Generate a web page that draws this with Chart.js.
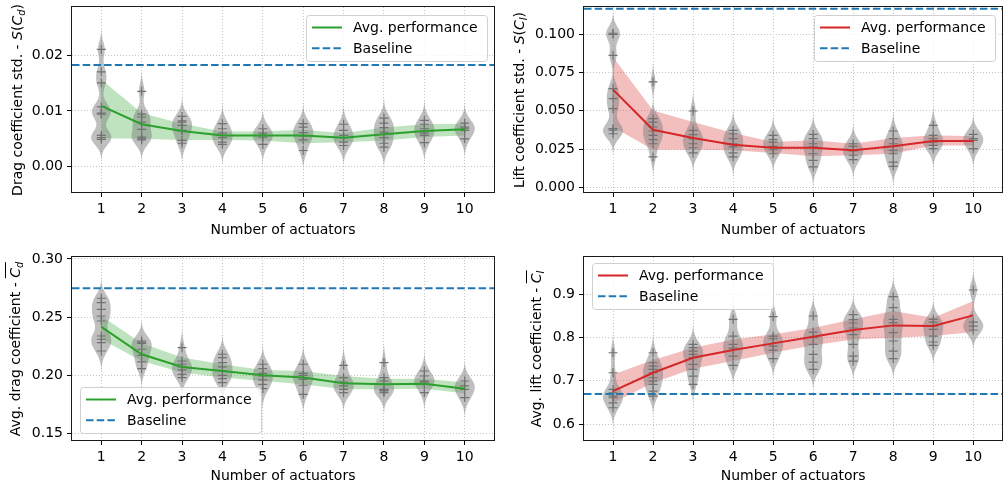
<!DOCTYPE html>
<html><head><meta charset="utf-8">
<script src="https://cdn.jsdelivr.net/npm/chart.js@4.4.1/dist/chart.umd.min.js"></script>
<style>
html,body{margin:0;padding:0;background:#fff;}
#wrap{position:relative;width:1008px;height:488px;overflow:hidden;background:#fff;}
canvas{position:absolute;}
.yl{position:absolute;white-space:nowrap;font-family:"DejaVu Sans";font-size:14px;line-height:16px;color:#000;transform:translate(-50%,-50%) rotate(-90deg);}
.yl sub{font-size:70%;vertical-align:-0.3em;line-height:0;}
.ov{border-top:1px solid #000;padding-top:1px;}
</style></head>
<body><div id="wrap">
<canvas id="c1" width="504" height="244" style="left:0;top:0"></canvas>
<canvas id="c2" width="504" height="244" style="left:504px;top:0"></canvas>
<canvas id="c3" width="504" height="244" style="left:0;top:244px"></canvas>
<canvas id="c4" width="504" height="244" style="left:504px;top:244px"></canvas>
<div class="yl" style="left:16.5px;top:99.5px">Drag coefficient std. - <i>S</i>(<i>C<sub>d</sub></i>)</div>
<div class="yl" style="left:519px;top:99.5px">Lift coefficient std. - <i>S</i>(<i>C<sub>l</sub></i>)</div>
<div class="yl" style="left:15px;top:348.5px">Avg. drag coefficient - <span class="ov"><i>C<sub>d</sub></i></span></div>
<div class="yl" style="left:536px;top:348.5px">Avg. lift coefficient - <span class="ov"><i>C<sub>l</sub></i></span></div>
</div>
<script>
// ---------- shared x data ----------
const xTicks = [1, 2, 3, 4, 5, 6, 7, 8, 9, 10];
const xTickLabels = ['1', '2', '3', '4', '5', '6', '7', '8', '9', '10'];
const xLimits = [0.275, 10.725];
const seriesLabels = ['Avg. performance', 'Baseline'];

// ---------- Panel 1: drag coefficient std ----------
const dragStdMean  = [0.0109, 0.0076, 0.0064, 0.0056, 0.0056, 0.0056, 0.0052, 0.0058, 0.0064, 0.0067];
const dragStdUpper = [0.0156, 0.0096, 0.0077, 0.0063, 0.0063, 0.0066, 0.0060, 0.0070, 0.0076, 0.0077];
const dragStdLower = [0.0051, 0.0050, 0.0048, 0.0048, 0.0047, 0.0042, 0.0044, 0.0047, 0.0053, 0.0056];
const dragStdBaseline = 0.0182;
const dragStdSamples = [
  [0.0210, 0.0170, 0.0150, 0.0107, 0.0096, 0.0094, 0.0056, 0.0052, 0.0049],
  [0.0135, 0.0094, 0.0089, 0.0080, 0.0067, 0.0053, 0.0050, 0.0048],
  [0.0090, 0.0082, 0.0080, 0.0074, 0.0065, 0.0064, 0.0047, 0.0042],
  [0.0077, 0.0068, 0.0060, 0.0052, 0.0044, 0.0040],
  [0.0068, 0.0060, 0.0056, 0.0053, 0.0040],
  [0.0077, 0.0071, 0.0061, 0.0055, 0.0048, 0.0029],
  [0.0076, 0.0065, 0.0056, 0.0052, 0.0044, 0.0038],
  [0.0087, 0.0078, 0.0070, 0.0062, 0.0052, 0.0042, 0.0035],
  [0.0083, 0.0076, 0.0068, 0.0060, 0.0056, 0.0043],
  [0.0078, 0.0071, 0.0068, 0.0065, 0.0050]
];
const dragStdTicks = [0, 0.01, 0.02];
const dragStdTickLabels = ['0.00', '0.01', '0.02'];
const dragStdRange = [-0.00453, 0.0286];

// ---------- Panel 2: lift coefficient std ----------
const liftStdMean  = [0.0638, 0.0377, 0.0323, 0.0280, 0.0260, 0.0260, 0.0243, 0.0269, 0.0304, 0.0304];
const liftStdUpper = [0.0850, 0.0503, 0.0427, 0.0356, 0.0297, 0.0308, 0.0286, 0.0323, 0.0341, 0.0334];
const liftStdLower = [0.0395, 0.0247, 0.0247, 0.0243, 0.0226, 0.0204, 0.0211, 0.0221, 0.0275, 0.0275];
const liftStdBaseline = 0.1165;
const liftStdSamples = [
  [0.1005, 0.0998, 0.0861, 0.0644, 0.0579, 0.0514, 0.0384, 0.0375, 0.0351],
  [0.0688, 0.0449, 0.0427, 0.0395, 0.0369, 0.0341, 0.0313, 0.0286, 0.0200],
  [0.0499, 0.0373, 0.0345, 0.0319, 0.0286, 0.0260, 0.0226],
  [0.0373, 0.0351, 0.0319, 0.0286, 0.0265, 0.0226, 0.0200],
  [0.0341, 0.0313, 0.0297, 0.0269, 0.0247, 0.0221],
  [0.0347, 0.0319, 0.0286, 0.0265, 0.0221, 0.0178, 0.0135],
  [0.0286, 0.0269, 0.0239, 0.0211, 0.0183],
  [0.0369, 0.0319, 0.0286, 0.0269, 0.0243, 0.0221, 0.0167, 0.0139],
  [0.0406, 0.0341, 0.0319, 0.0297, 0.0275, 0.0254],
  [0.0347, 0.0319, 0.0308, 0.0254]
];
const liftStdTicks = [0, 0.025, 0.05, 0.075, 0.1];
const liftStdTickLabels = ['0.000', '0.025', '0.050', '0.075', '0.100'];
const liftStdRange = [-0.0028, 0.11757];

// ---------- Panel 3: average drag coefficient ----------
const dragAvgMean  = [0.2415, 0.2180, 0.2071, 0.2036, 0.1999, 0.1979, 0.1930, 0.1921, 0.1927, 0.1884];
const dragAvgUpper = [0.2509, 0.2274, 0.2151, 0.2094, 0.2045, 0.2036, 0.1993, 0.1970, 0.1970, 0.1936];
const dragAvgLower = [0.2309, 0.2122, 0.2022, 0.1979, 0.1950, 0.1921, 0.1878, 0.1878, 0.1884, 0.1844];
const dragAvgBaseline = 0.2748;
const dragAvgSamples = [
  [0.2662, 0.2624, 0.2567, 0.2509, 0.2466, 0.2337, 0.2309, 0.2280, 0.2208],
  [0.2294, 0.2284, 0.2274, 0.2223, 0.2171, 0.2114, 0.2056],
  [0.2237, 0.2122, 0.2094, 0.2071, 0.2045, 0.2007, 0.1979],
  [0.2180, 0.2151, 0.2108, 0.2071, 0.2036, 0.1999, 0.1970, 0.1936],
  [0.2094, 0.2056, 0.2016, 0.1993, 0.1959, 0.1921, 0.1884],
  [0.2094, 0.2016, 0.1999, 0.1964, 0.1913, 0.1835],
  [0.2085, 0.1979, 0.1941, 0.1907, 0.1878, 0.1850],
  [0.2108, 0.1979, 0.1950, 0.1878, 0.1871, 0.1864, 0.1850],
  [0.2036, 0.1993, 0.1950, 0.1945, 0.1941, 0.1921, 0.1850],
  [0.1950, 0.1907, 0.1878, 0.1807]
];
const dragAvgTicks = [0.15, 0.20, 0.25, 0.30];
const dragAvgTickLabels = ['0.15', '0.20', '0.25', '0.30'];
const dragAvgRange = [0.1442, 0.3017];

// ---------- Panel 4: average lift coefficient ----------
const liftAvgMean  = [0.6760, 0.7183, 0.7530, 0.7707, 0.7861, 0.8015, 0.8169, 0.8276, 0.8261, 0.8507];
const liftAvgUpper = [0.7145, 0.7476, 0.7761, 0.7953, 0.8069, 0.8215, 0.8415, 0.8607, 0.8453, 0.8838];
const liftAvgLower = [0.6490, 0.6952, 0.7276, 0.7453, 0.7645, 0.7815, 0.7953, 0.7992, 0.8030, 0.8122];
const liftAvgBaseline = 0.669;
const liftAvgSamples = [
  [0.7645, 0.7183, 0.6798, 0.6721, 0.6644, 0.6606, 0.6490, 0.6375],
  [0.7645, 0.7414, 0.7337, 0.7260, 0.7183, 0.7068, 0.6991, 0.6914, 0.6760, 0.6644],
  [0.7838, 0.7761, 0.7684, 0.7607, 0.7530, 0.7376, 0.7260, 0.7106, 0.6914],
  [0.8415, 0.8030, 0.7838, 0.7750, 0.7568, 0.7353],
  [0.8477, 0.8030, 0.7968, 0.7799, 0.7707, 0.7507],
  [0.8492, 0.8122, 0.7992, 0.7838, 0.7607, 0.7430, 0.7260],
  [0.8523, 0.8408, 0.8331, 0.8215, 0.8061, 0.7838, 0.7568, 0.7453],
  [0.8938, 0.8684, 0.8415, 0.8338, 0.8107, 0.7915, 0.7684, 0.7507],
  [0.8415, 0.8353, 0.8261, 0.8184, 0.8030, 0.7892, 0.7815],
  [0.9092, 0.8353, 0.8261, 0.8169]
];
const liftAvgTicks = [0.6, 0.7, 0.8, 0.9];
const liftAvgTickLabels = ['0.6', '0.7', '0.8', '0.9'];
const liftAvgRange = [0.5631, 0.9854];

// ---------- rendering ----------
Chart.defaults.font.family = '"DejaVu Sans"';
Chart.defaults.font.size = 14;
Chart.defaults.color = '#000';

function violinPlugin(samples, range) {
  return {
    id: 'violins',
    beforeDatasetDraw(chart, args) {
      if (args.index !== 2) return;
      const { ctx, chartArea: a, scales: { x, y } } = chart;
      ctx.save();
      ctx.beginPath();
      ctx.rect(a.left, a.top, a.right - a.left, a.bottom - a.top);
      ctx.clip();
      ctx.fillStyle = 'rgba(128,128,128,0.5)';
      const bw = 0.04 * (range[1] - range[0]);
      samples.forEach((s, i) => {
        const lo = Math.min(...s) - 2.8 * bw, hi = Math.max(...s) + 2.8 * bw;
        const N = 180, ys = [], ds = [];
        for (let k = 0; k <= N; k++) {
          const v = lo + (hi - lo) * k / N;
          let d = 0;
          s.forEach(p => { d += Math.exp(-0.5 * ((v - p) / bw) ** 2); });
          ys.push(v); ds.push(d);
        }
        const dm = Math.max(...ds);
        const xc = xTicks[i];
        ctx.beginPath();
        for (let k = 0; k <= N; k++) {
          const px = x.getPixelForValue(xc + 0.25 * ds[k] / dm), py = y.getPixelForValue(ys[k]);
          if (k === 0) ctx.moveTo(px, py); else ctx.lineTo(px, py);
        }
        for (let k = N; k >= 0; k--) {
          ctx.lineTo(x.getPixelForValue(xc - 0.25 * ds[k] / dm), y.getPixelForValue(ys[k]));
        }
        ctx.closePath();
        ctx.fill();
      });
      ctx.restore();
    }
  };
}

const framePlugin = {
  id: 'frame',
  afterDatasetsDraw(chart) {
    const { ctx, chartArea: a } = chart;
    ctx.save();
    ctx.strokeStyle = '#1a1a1a';
    ctx.lineWidth = 1;
    const l = Math.round(a.left) - 0.5, t = Math.round(a.top) - 0.5;
    const r = Math.round(a.right) + 0.5, b = Math.round(a.bottom) + 0.5;
    ctx.strokeRect(l, t, r - l, b - t);
    ctx.restore();
  }
};

function legendPlugin(pos) {
  return {
    id: 'customLegend',
    afterDraw(chart) {
      const { ctx, chartArea: a } = chart;
      const w = 181, h = 46;
      let L, T;
      if (pos === 'ur') { L = a.right - 7 - w; T = a.top + 8; }
      else if (pos === 'ul') { L = a.left + 8; T = a.top + 6; }
      else { L = a.left + 8; T = a.bottom - 7 - h; }
      L = Math.round(L) + 0.5; T = Math.round(T) + 0.5;
      ctx.save();
      ctx.beginPath();
      ctx.roundRect(L, T, w, h, 3);
      ctx.fillStyle = 'rgba(255,255,255,0.8)';
      ctx.fill();
      ctx.strokeStyle = '#d0d0d0';
      ctx.lineWidth = 1;
      ctx.stroke();
      ctx.font = '14px "DejaVu Sans"';
      ctx.textBaseline = 'middle';
      ctx.textAlign = 'left';
      [0, 1].forEach(i => {
        const ds = chart.data.datasets[i];
        const cy = T + 12 + i * 20.7;
        ctx.beginPath();
        ctx.strokeStyle = ds.borderColor;
        ctx.lineWidth = ds.borderWidth;
        ctx.setLineDash(ds.borderDash || []);
        ctx.moveTo(L + 5.5, cy);
        ctx.lineTo(L + 35.5, cy);
        ctx.stroke();
        ctx.setLineDash([]);
        ctx.fillStyle = '#000';
        ctx.fillText(ds.label, L + 46.5, cy + 1);
      });
      ctx.restore();
    }
  };
}

function makeChart(id, cfg) {
  const pts = arr => xTicks.map((x, i) => ({ x, y: arr[i] }));
  new Chart(document.getElementById(id), {
    type: 'line',
    data: {
      datasets: [
        { label: seriesLabels[0], data: pts(cfg.mean), borderColor: cfg.color, borderWidth: 2,
          pointRadius: 0, fill: false, tension: 0 },
        { label: seriesLabels[1], data: xLimits.map(x => ({ x, y: cfg.baseline })), borderColor: '#1f77b4',
          borderWidth: 2, borderDash: [7.5, 3.2], pointRadius: 0, fill: false },
        { label: 'samples', data: cfg.samples.flatMap((s, i) => s.map(v => ({ x: xTicks[i], y: v }))),
          showLine: false, pointStyle: 'cross', pointRadius: 4.5, pointBorderColor: '#727272',
          pointBorderWidth: 1.2, pointBackgroundColor: '#727272', borderColor: '#727272', fill: false },
        { label: 'upper', data: pts(cfg.upper), fill: '+1', backgroundColor: cfg.band,
          borderColor: 'rgba(0,0,0,0)', borderWidth: 0, pointRadius: 0, tension: 0 },
        { label: 'lower', data: pts(cfg.lower), fill: false,
          borderColor: 'rgba(0,0,0,0)', borderWidth: 0, pointRadius: 0, tension: 0 }
      ]
    },
    options: {
      responsive: false, animation: false, devicePixelRatio: 1,
      layout: { padding: { left: 0, right: cfg.padR, top: cfg.padT, bottom: 0 } },
      plugins: { legend: { display: false }, tooltip: { enabled: false } },
      scales: {
        x: {
          type: 'linear', min: xLimits[0], max: xLimits[1],
          afterBuildTicks: s => { s.ticks = xTicks.map(v => ({ value: v })); },
          afterFit: s => { s.height = cfg.xH; s.paddingLeft = 0; s.paddingRight = 0; s.paddingTop = 0; s.paddingBottom = 0; },
          ticks: { callback: (v, i) => xTickLabels[i], padding: 4, color: '#000', maxRotation: 0, autoSkip: false },
          grid: { color: '#c4c4c4', lineWidth: 1, tickLength: 5, tickColor: '#000', tickWidth: 1, tickBorderDash: [] },
          border: { display: false, dash: [1, 2] },
          title: { display: true, text: 'Number of actuators', color: '#000', padding: { top: 0, bottom: cfg.titlePad } }
        },
        y: {
          type: 'linear', min: cfg.range[0], max: cfg.range[1],
          afterBuildTicks: s => { s.ticks = cfg.ticks.map(v => ({ value: v })); },
          afterFit: s => { s.width = cfg.yW; s.paddingLeft = 0; s.paddingRight = 0; s.paddingTop = 0; s.paddingBottom = 0; },
          ticks: { callback: (v, i) => cfg.tickLabels[i], padding: 4, color: '#000', autoSkip: false },
          grid: { color: '#c4c4c4', lineWidth: 1, tickLength: 5, tickColor: '#000', tickWidth: 1, tickBorderDash: [] },
          border: { display: false, dash: [1, 2] },
          title: { display: false }
        }
      }
    },
    plugins: [violinPlugin(cfg.samples, cfg.range), framePlugin, legendPlugin(cfg.legend)]
  });
}

const green = '#2ca02c', greenBand = 'rgba(44,160,44,0.3)';
const red = '#d62728', redBand = 'rgba(214,39,40,0.3)';

makeChart('c1', { mean: dragStdMean, upper: dragStdUpper, lower: dragStdLower, baseline: dragStdBaseline,
  samples: dragStdSamples, ticks: dragStdTicks, tickLabels: dragStdTickLabels, range: dragStdRange,
  color: green, band: greenBand, legend: 'ur', padR: 10, padT: 7, xH: 52, yW: 72, titlePad: 5.5 });
makeChart('c2', { mean: liftStdMean, upper: liftStdUpper, lower: liftStdLower, baseline: liftStdBaseline,
  samples: liftStdSamples, ticks: liftStdTicks, tickLabels: liftStdTickLabels, range: liftStdRange,
  color: red, band: redBand, legend: 'ur', padR: 2, padT: 7, xH: 52, yW: 80, titlePad: 5.5 });
makeChart('c3', { mean: dragAvgMean, upper: dragAvgUpper, lower: dragAvgLower, baseline: dragAvgBaseline,
  samples: dragAvgSamples, ticks: dragAvgTicks, tickLabels: dragAvgTickLabels, range: dragAvgRange,
  color: green, band: greenBand, legend: 'll', padR: 10, padT: 13, xH: 48, yW: 72, titlePad: 3 });
makeChart('c4', { mean: liftAvgMean, upper: liftAvgUpper, lower: liftAvgLower, baseline: liftAvgBaseline,
  samples: liftAvgSamples, ticks: liftAvgTicks, tickLabels: liftAvgTickLabels, range: liftAvgRange,
  color: red, band: redBand, legend: 'ul', padR: 2, padT: 13, xH: 48, yW: 80, titlePad: 3 });
</script>
</body></html>
